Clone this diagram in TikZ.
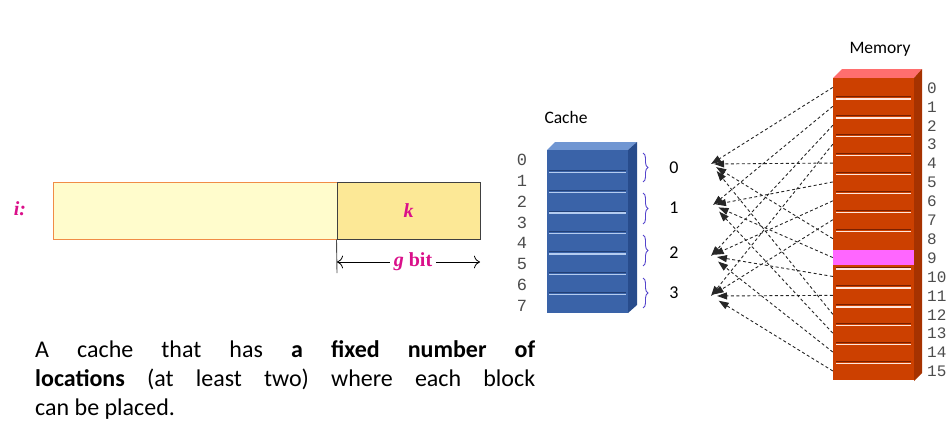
\documentclass[tikz,border=0pt]{standalone}
\usepackage{fontspec}
\setmainfont{Carlito}
\newfontfamily\serifb{Liberation Serif}
\newfontfamily\digitf{Liberation Mono}
\usetikzlibrary{positioning,arrows.meta,decorations.pathreplacing}
\definecolor{lightyel}{RGB}{255,252,204}
\definecolor{kyel}{RGB}{252,232,150}
\definecolor{barorange}{RGB}{240,140,70}
\definecolor{pinktext}{RGB}{218,16,138}
\definecolor{cfront}{RGB}{58,99,168}
\definecolor{ctop}{RGB}{112,150,210}
\definecolor{cside}{RGB}{40,76,140}
\definecolor{clight}{RGB}{180,204,240}
\definecolor{cdark}{RGB}{34,64,118}
\definecolor{mfront}{RGB}{204,64,0}
\definecolor{mtop}{RGB}{255,110,110}
\definecolor{mside}{RGB}{166,50,0}
\definecolor{mlight}{RGB}{255,230,220}
\definecolor{mdark}{RGB}{120,32,0}
\definecolor{hit}{RGB}{255,102,255}
\definecolor{bracecol}{RGB}{84,68,204}
\tikzset{lbl/.style={font=\fontsize{17.5}{19}\selectfont, inner sep=0pt},
         num/.style={font=\digitf\fontsize{16}{16}\selectfont, text=black!70, inner sep=0pt},
         pk/.style={text=pinktext, font=\serifb\bfseries\fontsize{20}{20}\selectfont, inner sep=0pt},
         crow/.style={rectangle, fill=cfront, minimum width=81pt, minimum height=20.375pt, inner sep=0pt},
         mrow/.style={rectangle, fill=mfront, minimum width=81pt, minimum height=18.9pt, inner sep=0pt},
         link/.style={draw=black!85, line width=0.9pt, dash pattern=on 3pt off 2.5pt,
                      -{Triangle[length=10pt,width=7pt]}},
         br/.style={draw=bracecol, line width=0.9pt, decorate, decoration={brace, amplitude=5pt}},
         txt/.style={anchor=base west, inner sep=0pt, font=\fontsize{24}{29}\selectfont}}

\begin{document}
\begin{tikzpicture}[x=1pt, y=-1pt]
\useasboundingbox (0,0) rectangle (947,431);
% address field
\node[draw=barorange, line width=1pt, fill=lightyel, minimum width=284pt, minimum height=57pt, inner sep=0pt] at (195,210.5)(blk){};
\node[draw=black!75, line width=1pt, fill=kyel, minimum width=143pt, minimum height=57pt, inner sep=0pt, pk] at (408.5,210.5)(kbox){\itshape k};
\node[pk] at (20,209)(ilbl){\itshape i:};
\coordinate (gl) at (337,262);
\coordinate (gr) at (480,262);
\coordinate (tick) at (337,273);
\node[pk, fill=white, inner xsep=4pt] at (413,262)(gbit){\itshape g\upshape\ bit};
\draw[black!70, line width=0.9pt] (kbox.south west) -- (tick);
\draw[-{To[length=6pt]}, line width=0.8pt] (gbit.west) -- (gl);
\draw[-{To[length=6pt]}, line width=0.8pt] (gbit.east) -- (gr);

% cache
\fill[ctop] (547,150) -- (555,142) -- (637,142) -- (628,150) -- cycle;
\fill[cside] (628,150) -- (637,142) -- (637,305) -- (628,313) -- cycle;
\foreach \i in {0,...,7}{
  \node[crow] at (587.5,160.19+20.375*\i)(c\i){};
  \node[num, font=\digitf\fontsize{17}{17}\selectfont] at (522,160+20.8*\i)(cn\i){\i};
}
\foreach \i in {1,...,7}{
  \draw[cdark, line width=1pt] (549,150+20.375*\i) -- (626,150+20.375*\i);
  \draw[clight, line width=1.4pt] (549,152+20.375*\i) -- (626,152+20.375*\i);
}
\node[lbl] at (566,117)(ctitle){Cache};

% sets
\foreach \j/\ya/\yb/\yl in {0/153/182/168, 1/193/224/208, 2/235/266/253, 3/278/308/293}{
  \draw[br] (643,\ya) -- (643,\yb);
  \node[lbl, font=\fontsize{18}{19}\selectfont] at (674,\yl)(s\j){\j};
}
\coordinate (t0) at (711,164);
\coordinate (t1) at (713,205);
\coordinate (t2) at (711,256);
\coordinate (t3) at (711,296);

% memory
\fill[mtop] (833,78) -- (842,69) -- (922,69) -- (914,78) -- cycle;
\fill[mside] (914,78) -- (922,69) -- (922,373) -- (914,381) -- cycle;
\foreach \i in {0,...,15}{
  \node[mrow] at (873.5,87.45+18.9*\i)(m\i){};
  \node[num, anchor=west] at (927,88+18.9*\i)(mn\i){\i};
}
\node[mrow, fill=hit, minimum height=15pt] at (m9)(hitrow){};
\foreach \i in {1,...,15}{
  \ifnum\i=9\else
  \draw[mdark, line width=1pt] (836,78+18.9*\i) -- (911,78+18.9*\i);
  \draw[mlight, line width=1.4pt] (836,80+18.9*\i) -- (911,80+18.9*\i);
  \fi
}
\node[lbl] at (880,49)(mtitle){Memory};

% block i goes to set i mod 4
\foreach \i in {0,...,15}{
  \pgfmathtruncatemacro\j{mod(\i,4)}
  \pgfmathtruncatemacro\k{div(\i,4)}
  \draw[link, shorten >=3pt*\k] (m\i.west) -- (t\j);
}

% text
\node[txt] at (35,357)(line1){\makebox[500pt][s]{A cache that has \textbf{a fixed number of}}};
\node[txt] at (35,386)(line2){\makebox[500pt][s]{\textbf{locations} (at least two) where each block}};
\node[txt] at (35,415)(line3){can be placed.};
\end{tikzpicture}
\end{document}
